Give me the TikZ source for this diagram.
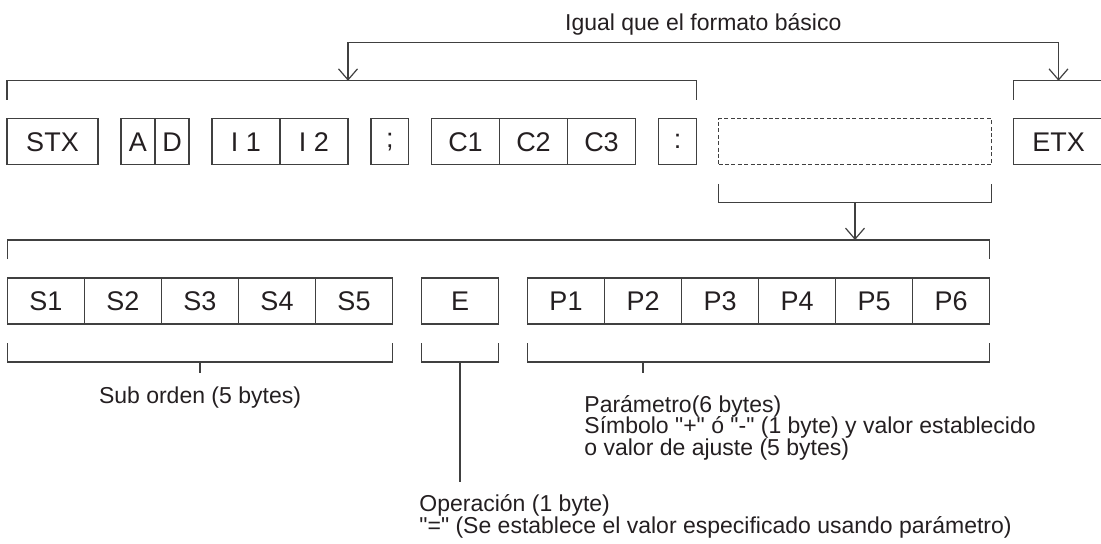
\documentclass[tikz,border=0pt]{standalone}
\usepackage{fontspec}
\setmainfont{Liberation Sans}[Ligatures=TeXOff]
\usetikzlibrary{arrows.meta,positioning}
\definecolor{linegray}{rgb}{0.25,0.25,0.25}
\definecolor{inkgray}{rgb}{0.14,0.12,0.13}
\tikzset{
  cell/.style={
    draw=linegray,
    line width=0.6pt,
    minimum height=23pt,
    inner sep=0pt,
    outer sep=0pt,
    text=inkgray,
    font=\fontsize{13.5}{15}\selectfont
  },
  hole/.style={
    cell,
    dash pattern=on 2pt off 1.2pt
  },
  brace/.style={
    draw=linegray,
    line width=0.6pt
  },
  arrow/.style={
    brace,
    -{Straight Barb[length=5.5pt,width=9.5pt]}
  },
  twoway/.style={
    brace,
    {Straight Barb[length=5.5pt,width=9.5pt]}-{Straight Barb[length=5.5pt,width=9.5pt]}
  },
  note/.style={
    text=inkgray,
    inner sep=0pt,
    align=left,
    font={\fontsize{11.5}{10.75}\selectfont\lineskiplimit=-20pt}
  }
}

\begin{document}
\begin{tikzpicture}[x=0.5pt,y=-0.5pt]
\useasboundingbox (0,0) rectangle (1101,543);
\clip (0,0) rectangle (1101,543);
% command row
\node[cell, minimum width=45.5pt] (stx) at (52.5,141.75) {STX};
\node[cell, minimum width=17pt, right=11.5pt of stx] (a) {A};
\node[cell, minimum width=17pt, right=0pt of a] (d) {D};
\node[cell, minimum width=34pt, right=11.5pt of d] (i1) {I 1};
\node[cell, minimum width=34pt, right=0pt of i1] (i2) {I 2};
\node[cell, minimum width=18.75pt, right=11.5pt of i2] (semi) {;};
\node[cell, minimum width=34pt, right=11.5pt of semi] (c1) {C1};
\node[cell, minimum width=34pt, right=0pt of c1] (c2) {C2};
\node[cell, minimum width=34pt, right=0pt of c2] (c3) {C3};
\node[cell, minimum width=19pt, right=11.5pt of c3] (colon) {:};
\node[hole, minimum width=136.5pt, right=11pt of colon] (free) {};
\node[cell, minimum width=45pt, right=11pt of free] (etx) {ETX};
% detail row
\node[cell, minimum width=38.5pt] (s1) at (46,301) {S1};
\node[cell, minimum width=38.5pt, right=0pt of s1] (s2) {S2};
\node[cell, minimum width=38.5pt, right=0pt of s2] (s3) {S3};
\node[cell, minimum width=38.5pt, right=0pt of s3] (s4) {S4};
\node[cell, minimum width=38.5pt, right=0pt of s4] (s5) {S5};
\node[cell, minimum width=38.5pt, right=14.5pt of s5] (e) {E};
\node[cell, minimum width=38.5pt, right=14.5pt of e] (p1) {P1};
\node[cell, minimum width=38.5pt, right=0pt of p1] (p2) {P2};
\node[cell, minimum width=38.5pt, right=0pt of p2] (p3) {P3};
\node[cell, minimum width=38.5pt, right=0pt of p3] (p4) {P4};
\node[cell, minimum width=38.5pt, right=0pt of p4] (p5) {P5};
\node[cell, minimum width=38.5pt, right=0pt of p5] (p6) {P6};

% brackets above the command row
\draw[brace] ([yshift=9.5pt]stx.north west) -- ++(0,9.5pt) -| ([yshift=9.5pt]colon.north east);
\draw[brace] ([yshift=9.5pt]etx.north west) -- ++(0,9.5pt) -| ([yshift=9.5pt]etx.north east);
\coordinate (top1) at ([yshift=19pt]i2.north east);
\coordinate (top2) at ([yshift=19pt]etx.north);
\draw[twoway] (top1) -- ++(0,19pt) -| node[note, pos=.25, above=3.5pt] {Igual que el formato básico} (top2);

% free part expanded into the detail row
\draw[brace] ([yshift=-9.5pt]free.south west) -- ++(0,-9.5pt) -| ([yshift=-9.5pt]free.south east);
\coordinate (low1) at ([yshift=-19pt]free.south);
\path (free.south |- s1.north) ++(0,19pt) coordinate (top3);
\draw[arrow] (low1) -- (top3);
\draw[brace] ([yshift=9.5pt]s1.north west) -- ++(0,9.5pt) -| ([yshift=9.5pt]p6.north east);

% brackets below the detail row
\draw[brace] ([yshift=-9.5pt]s1.south west) -- ++(0,-9.5pt) -| ([yshift=-9.5pt]s5.south east);
\draw[brace] ([yshift=-9.5pt]e.south west) -- ++(0,-9.5pt) -| ([yshift=-9.5pt]e.south east);
\draw[brace] ([yshift=-9.5pt]p1.south west) -- ++(0,-9.5pt) -| ([yshift=-9.5pt]p6.south east);
\coordinate (subtick) at ([yshift=-19pt]s3.south);
\coordinate (optick) at ([yshift=-19pt]e.south);
\coordinate (partick) at ([yshift=-19pt]p2.south);
\draw[brace] (subtick) -- ++(0,-5.5pt) coordinate (subend);
\draw[brace] (optick) -- ++(0,-59.85pt) coordinate (opend);
\draw[brace] (partick) -- ++(0,-5.5pt) coordinate (parend);

% notes
\node[note, anchor=base, yshift=-15pt] (sub) at (subend) {Sub orden (5 bytes)};
\node[note, anchor=base west, xshift=-29.5pt, yshift=-41pt] (par) at (parend)
  {Parámetro(6 bytes)\\Símbolo "+" ó "-" (1 byte) y valor establecido\\o valor de ajuste (5 bytes)};
\node[note, anchor=base west, xshift=-20.5pt, yshift=-25.65pt] (op) at (opend)
  {Operación (1 byte)\\"=" (Se establece el valor especificado usando parámetro)};
\end{tikzpicture}
\end{document}
